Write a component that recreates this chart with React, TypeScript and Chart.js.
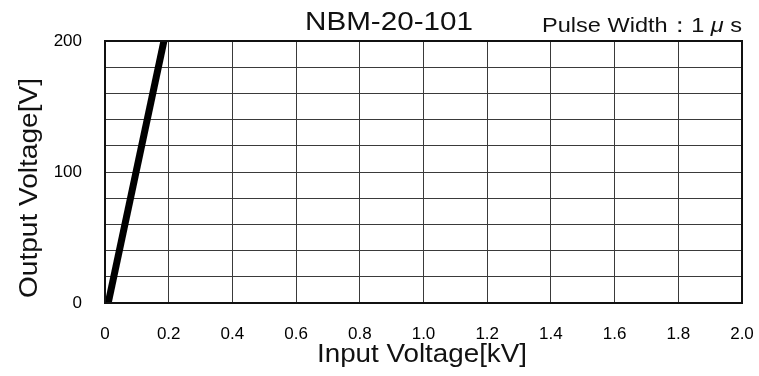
import React, { useEffect, useRef } from "react";
import { Chart, registerables } from "chart.js";

Chart.register(...registerables);

// Transfer curve: output voltage vs input voltage
const inputKV = [0.01, 0.185];
const outputV = [0, 200];

const xTicks = [0, 0.2, 0.4, 0.6, 0.8, 1.0, 1.2, 1.4, 1.6, 1.8, 2.0];
const yLabelled = [0, 100, 200];

const chartTitle = "NBM-20-101";
const pulseLabel = "Pulse Width：1 ";
const pulseUnitMu = "μ";
const pulseUnitS = " s";
const xTitle = "Input Voltage[kV]";
const yTitle = "Output Voltage[V]";

const FONT = "'Liberation Sans', Arial, sans-serif";

function drawFitted(
  ctx: CanvasRenderingContext2D,
  text: string,
  cx: number,
  cy: number,
  size: number,
  width: number,
  angle = 0
) {
  ctx.save();
  ctx.font = `${size}px ${FONT}`;
  const w = ctx.measureText(text).width;
  ctx.translate(cx, cy);
  ctx.rotate(angle);
  ctx.scale(width / w, 1);
  ctx.textAlign = "center";
  ctx.textBaseline = "middle";
  ctx.fillStyle = "#111";
  ctx.fillText(text, 0, 0);
  ctx.restore();
}

const titlesPlugin = {
  id: "titles",
  afterDraw(chart: Chart) {
    const ctx = chart.ctx;
    drawFitted(ctx, chartTitle, 389, 23, 25, 168);
    drawFitted(ctx, xTitle, 422, 355, 25, 210);
    drawFitted(ctx, yTitle, 30, 188, 25, 220, -Math.PI / 2);

    // "Pulse Width：1 μs" with an italic mu, stretched to its slot
    ctx.save();
    ctx.fillStyle = "#111";
    ctx.textBaseline = "alphabetic";
    ctx.textAlign = "left";
    const size = 21;
    const normal = `${size}px ${FONT}`;
    const italic = `italic ${size}px ${FONT}`;
    ctx.font = normal;
    const w1 = ctx.measureText(pulseLabel).width;
    const w3 = ctx.measureText(pulseUnitS).width;
    ctx.font = italic;
    const w2 = ctx.measureText(pulseUnitMu).width;
    const total = w1 + w2 + w3;
    ctx.translate(542, 32);
    ctx.scale(200 / total, 1);
    ctx.font = normal;
    ctx.fillText(pulseLabel, 0, 0);
    ctx.font = italic;
    ctx.fillText(pulseUnitMu, w1, 0);
    ctx.font = normal;
    ctx.fillText(pulseUnitS, w1 + w2, 0);
    ctx.restore();
  },
};

export default function App() {
  const ref = useRef<HTMLCanvasElement>(null);

  useEffect(() => {
    if (!ref.current) return;
    const chart = new Chart(ref.current, {
      type: "line",
      data: {
        datasets: [
          {
            data: inputKV.map((x, i) => ({ x, y: outputV[i] })),
            borderColor: "#000",
            borderWidth: 7,
            pointRadius: 0,
            fill: false,
            tension: 0,
          },
        ],
      },
      options: {
        animation: false,
        responsive: false,
        layout: { padding: { top: 41, right: 17, left: 0, bottom: 0 } },
        plugins: {
          legend: { display: false },
          tooltip: { enabled: false },
        },
        scales: {
          x: {
            type: "linear",
            min: xTicks[0],
            max: xTicks[xTicks.length - 1],
            afterBuildTicks: (scale: any) => {
              scale.ticks = xTicks.map((v) => ({ value: v }));
            },
            afterFit: (scale: any) => {
              scale.height = 73;
              scale.paddingLeft = 0;
              scale.paddingRight = 0;
            },
            ticks: {
              autoSkip: false,
              maxRotation: 0,
              padding: 21,
              color: "#000",
              font: { family: FONT, size: 17 },
              callback: (v: any) => (Number(v) === 0 ? "0" : Number(v).toFixed(1)),
            },
            grid: { color: "#3a3a3a", lineWidth: 1, drawTicks: false },
            border: { display: true, color: "#111", width: 2 },
          },
          y: {
            type: "linear",
            min: 0,
            max: 200,
            ticks: {
              stepSize: 20,
              autoSkip: false,
              padding: 23,
              color: "#000",
              font: { family: FONT, size: 17 },
              callback: (v: any) => (yLabelled.includes(Number(v)) ? String(v) : ""),
            },
            afterFit: (scale: any) => {
              scale.width = 105;
              scale.paddingTop = 0;
              scale.paddingBottom = 0;
            },
            grid: { color: "#3a3a3a", lineWidth: 1, drawTicks: false },
            border: { display: true, color: "#111", width: 2 },
          },
        },
      },
      plugins: [
        titlesPlugin,
        {
          id: "frame",
          afterDraw(c: Chart) {
            const { left, right, top, bottom } = c.chartArea;
            const ctx = c.ctx;
            ctx.save();
            ctx.strokeStyle = "#111";
            ctx.lineWidth = 2;
            ctx.strokeRect(left, top, right - left, bottom - top);
            ctx.restore();
          },
        },
      ],
    });
    return () => chart.destroy();
  }, []);

  return (
    <div style={{ position: "absolute", left: 0, top: 0, width: 759, height: 376, background: "#fff" }}>
      <canvas ref={ref} width={759} height={376} />
    </div>
  );
}
